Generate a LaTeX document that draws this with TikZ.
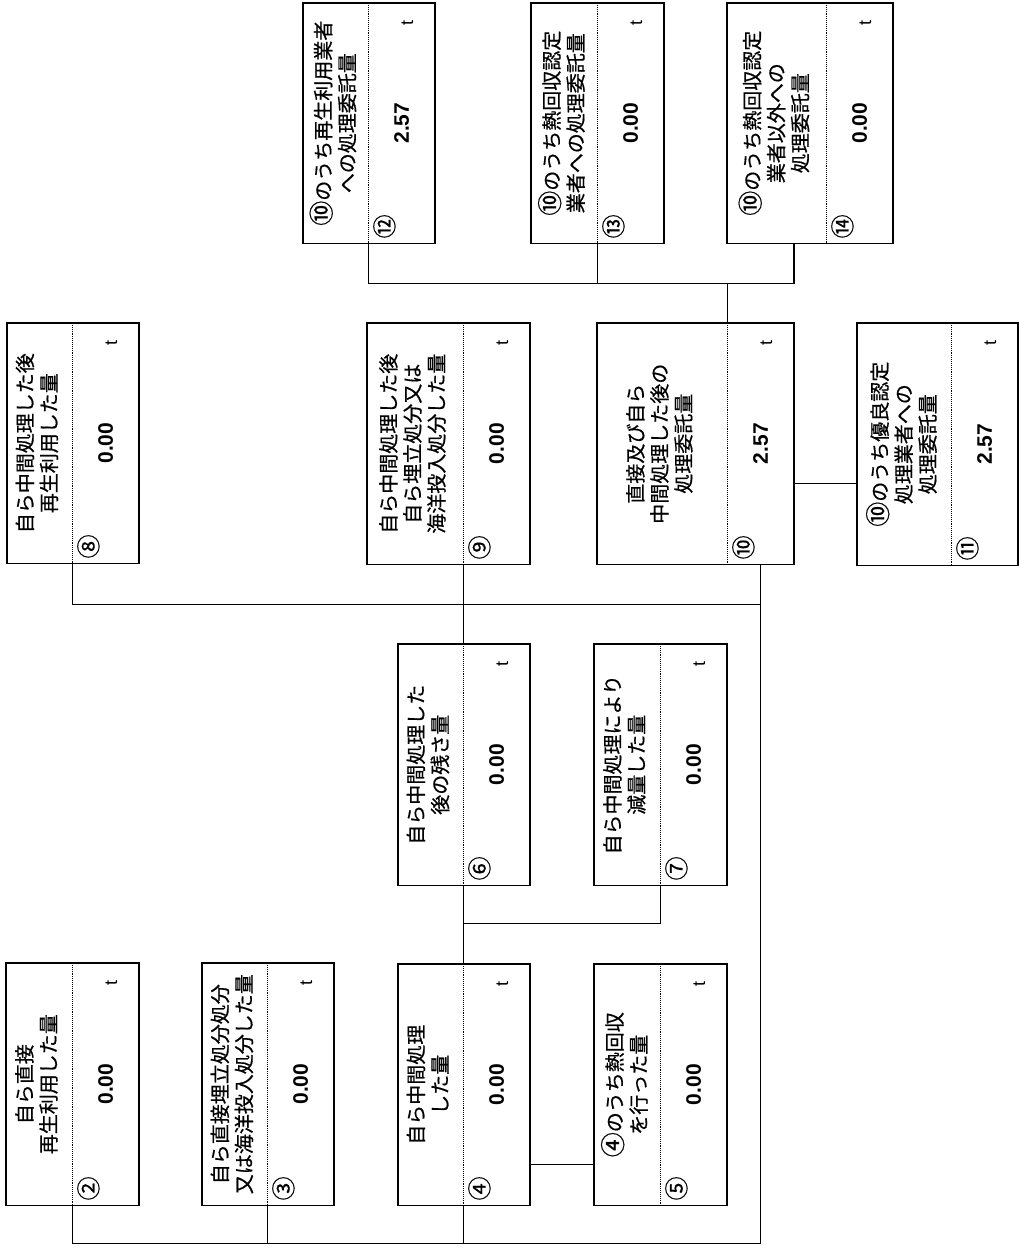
\documentclass[tikz,border=0pt]{standalone}
\usepackage{fontspec}
\setmainfont{Liberation Sans}
\newfontfamily\jpfont[FakeBold=0.6]{Noto Sans CJK JP}
\usepackage{graphicx}

\tikzset{
  lab/.style={inner sep=0pt, font=\jpfont\fontsize{20}{24}\selectfont},
  val/.style={inner sep=0pt, minimum width=66pt, font=\bfseries\fontsize{21}{21}\selectfont},
  frame/.style={line width=1.5pt},
  divider/.style={line width=0.9pt, densely dotted},
  unit/.style={inner sep=0pt, font=\fontsize{18}{18}\selectfont},
  num/.style={inner sep=0pt, font=\jpfont\fontsize{24}{24}\selectfont},
  link/.style={line width=1.4pt},
}

% circled number inside a label
\newcommand{\cnum}[1]{{\fontsize{25}{24}\selectfont #1}}

% one box: name, left, top, label width, height, label, number, value
\newcommand{\wastebox}[8]{%
  \node[lab, minimum width=#4pt, minimum height=#5pt, anchor=north west] (l#1) at (#2,#3)
    {\rotatebox{90}{\begin{tabular}{@{}c@{}}#6\end{tabular}}};
  \node[val, minimum height=#5pt, anchor=north west] (v#1) at (l#1.north east)
    {\rotatebox{90}{#8}};
  \draw[frame] (l#1.north west) rectangle (v#1.south east);
  \draw[divider] (v#1.north west) -- (v#1.south west);
  \node[unit] (t#1) at ([xshift=39pt,yshift=-20pt]v#1.north west) {\rotatebox{90}{t}};
  \node[num] (n#1) at ([xshift=16pt,yshift=17pt]v#1.south west) {\rotatebox{90}{#7}};
}

\begin{document}
\begin{tikzpicture}[x=1pt,y=-1pt]
  \useasboundingbox (0,0) rectangle (1019,1248);

  % top row
  \wastebox{12}{303}{3}{65}{240}{\cnum{⑩}のうち再生利用業者\\への処理委託量}{⑫}{2.57}
  \wastebox{13}{531}{3}{66}{240}{\cnum{⑩}のうち熱回収認定\\業者への処理委託量}{⑬}{0.00}
  \wastebox{14}{727}{3}{99}{240}{\cnum{⑩}のうち熱回収認定\\業者以外への\\処理委託量}{⑭}{0.00}

  % second row
  \wastebox{8}{7}{323}{65}{240}{自ら中間処理した後\\再生利用した量}{⑧}{0.00}
  \wastebox{9}{367}{323}{96}{241}{自ら中間処理した後\\自ら埋立処分又は\\海洋投入処分した量}{⑨}{0.00}
  \wastebox{10}{597}{323}{130}{241}{直接及び自ら\\中間処理した後の\\処理委託量}{⑩}{2.57}
  \wastebox{11}{857}{323}{94}{242}{\cnum{⑩}のうち優良認定\\処理業者への\\処理委託量}{⑪}{2.57}

  % third row
  \wastebox{6}{398}{644}{65}{241}{自ら中間処理した\\後の残さ量}{⑥}{0.00}
  \wastebox{7}{594}{644}{66}{241}{自ら中間処理により\\減量した量}{⑦}{0.00}

  % bottom row
  \wastebox{2}{6}{963}{66}{242}{自ら直接\\再生利用した量}{②}{0.00}
  \wastebox{3}{202}{963}{65}{242}{自ら直接埋立処分処分\\又は海洋投入処分した量}{③}{0.00}
  \wastebox{4}{398}{964}{65}{241}{自ら中間処理\\した量}{④}{0.00}
  \wastebox{5}{594}{964}{66}{241}{\cnum{④}のうち熱回収\\を行った量}{⑤}{0.00}

  % connectors
  \draw[link] (v12.south west) -- ++(0,40) coordinate (tb) -| (v10.east |- l14.south);
  \draw[link] (v13.south west) -- (v13.south west |- tb);
  \draw[link] (v10.north west) -- (v10.north west |- tb);

  \coordinate (m10) at ([yshift=-40pt]v10.east);
  \draw[link] (m10) -- (m10 -| l11.west);

  \draw[link] (v2.south west) -- ++(0,38) coordinate (bb) -| (v10.south);
  \draw[link] (v3.south west) -- (v3.south west |- bb);
  \draw[link] (v4.south west) -- (v4.south west |- bb);

  \draw[link] (v8.south west) -- ++(0,41) coordinate (mb) -- (mb -| v10.south);
  \draw[link] (v9.south west) -- (v6.north west);
  \draw[link] (v6.south west) -- (v4.north west);
  \draw[link] (v7.south west) -- ++(0,38) -| (v6.south west);

  \coordinate (m4) at ([yshift=-80pt]v4.east);
  \draw[link] (m4) -- (m4 -| l5.west);
\end{tikzpicture}
\end{document}
